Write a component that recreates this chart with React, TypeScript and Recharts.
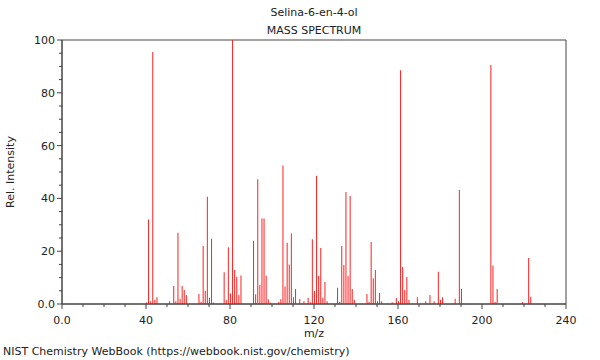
import React from 'react';
import { BarChart, Bar, XAxis, YAxis, ReferenceArea, Label } from 'recharts';

// m/z values and their relative intensities
const masses = [
  40, 41, 42, 43, 44, 45, 51, 53, 54, 55, 56, 57, 58, 59, 65, 66, 67, 68, 69, 70, 71, 72,
  77, 78, 79, 80, 81, 82, 83, 84, 85, 91, 92, 93, 94, 95, 96, 97, 98, 99, 103, 104, 105,
  106, 107, 108, 109, 110, 111, 113, 115, 117, 118, 119, 120, 121, 122, 123, 124, 125, 126,
  131, 132, 133, 134, 135, 136, 137, 138, 139, 145, 146, 147, 148, 149, 150, 151, 152, 157,
  159, 160, 161, 162, 163, 164, 165, 169, 173, 175, 177, 179, 180, 181, 187, 189, 190, 204,
  205, 206, 207, 219, 222, 223,
];
const intensities = [
  0.6, 32, 1, 95.5, 1.5, 2.6, 1, 6.8, 1, 27, 2, 6.8, 5.3, 3.4, 3.8, 0.8, 22, 5, 40.6, 2.4, 24.7, 0.6,
  12, 1.5, 21.5, 4, 100, 12.9, 10.3, 3.4, 10.8, 24, 3.7, 47.3, 7.2, 32.4, 32.4, 10.8, 1.8, 0.6, 0.8, 1.8, 52.5,
  6.6, 23.2, 15, 26.7, 2.6, 5.7, 1.9, 1, 2.4, 0.7, 24.5, 4.9, 48.6, 10.6, 21.2, 2.4, 8.3, 1,
  6.2, 0.8, 22, 14.8, 42.4, 10.6, 40.9, 5.7, 1.5, 3.8, 0.8, 23.5, 9.8, 12.9, 1, 4.2, 1, 0.7,
  2.3, 1, 88.5, 14, 5.3, 10.2, 1.5, 2.6, 1, 3.4, 1, 12.2, 1.5, 2.6, 2, 43.2, 5.8, 90.5,
  14.6, 0.8, 5.7, 0.8, 17.4, 2.7,
];

const xTicks = [0, 10, 20, 30, 40, 50, 60, 70, 80, 90, 100, 110, 120, 130, 140, 150, 160, 170, 180, 190, 200, 210, 220, 230, 240];
const xLabels = [0, 40, 80, 120, 160, 200, 240];
const yTicks = [0, 5, 10, 15, 20, 25, 30, 35, 40, 45, 50, 55, 60, 65, 70, 75, 80, 85, 90, 95, 100];
const yLabels = [0, 20, 40, 60, 80, 100];

const FONT = '"DejaVu Sans", sans-serif';
const AXIS = '#444';

const data = masses.map((mz, i) => ({ mz, intensity: intensities[i] }));

const fmt = (v: number) => (v === 0 ? '0.0' : String(v));

const XTick = (props: any) => {
  const { x, y, payload } = props;
  const major = xLabels.includes(payload.value);
  return (
    <g>
      <line x1={x} x2={x} y1={y} y2={y + (major ? 5 : 3)} stroke={AXIS} />
      {major && (
        <text x={x} y={y + 20} textAnchor="middle" fontSize={11} fontFamily={FONT} fill="#222">
          {fmt(payload.value)}
        </text>
      )}
    </g>
  );
};

const YTick = (props: any) => {
  const { x, y, payload } = props;
  const major = yLabels.includes(payload.value);
  return (
    <g>
      <line x1={x} x2={x - (major ? 5 : 3)} y1={y} y2={y} stroke={AXIS} />
      {major && (
        <text x={x - 7} y={y + 4} textAnchor="end" fontSize={11} fontFamily={FONT} fill="#222">
          {fmt(payload.value)}
        </text>
      )}
    </g>
  );
};

const textStyle: React.CSSProperties = {
  position: 'absolute',
  fontFamily: FONT,
  fontSize: 11,
  color: '#222',
  whiteSpace: 'nowrap',
};

export default function App() {
  return (
    <div style={{ position: 'absolute', left: 0, top: 0, width: 600, height: 360, background: '#fff' }}>
      <div style={{ ...textStyle, left: 314, top: 6, transform: 'translateX(-50%)' }}>Selina-6-en-4-ol</div>
      <div style={{ ...textStyle, left: 314, top: 24, transform: 'translateX(-50%)' }}>MASS SPECTRUM</div>
      <BarChart width={600} height={360} data={data} margin={{ top: 40, right: 34, bottom: 26, left: 0 }}>
        <ReferenceArea x1={0} x2={240} y1={0} y2={100} stroke={AXIS} fill="none" ifOverflow="visible" />
        <XAxis
          dataKey="mz"
          type="number"
          domain={[0, 240]}
          ticks={xTicks}
          interval={0}
          height={30}
          tickSize={0}
          tickMargin={0}
          tickLine={false}
          tick={<XTick />}
          axisLine={{ stroke: AXIS }}
        >
          <Label value="m/z" position="bottom" offset={-5} fontSize={11} fontFamily={FONT} fill="#222" />
        </XAxis>
        <YAxis
          type="number"
          domain={[0, 100]}
          ticks={yTicks}
          interval={0}
          width={62}
          tickSize={0}
          tickMargin={0}
          tickLine={false}
          tick={<YTick />}
          axisLine={{ stroke: AXIS }}
        >
          <Label value="Rel. Intensity" angle={-90} position="insideLeft" offset={10} fontSize={11} fontFamily={FONT} fill="#222" style={{ textAnchor: 'middle' }} />
        </YAxis>
        <Bar dataKey="intensity" fill="#ff2020" barSize={1} isAnimationActive={false} />
      </BarChart>
      <div style={{ ...textStyle, left: 3, top: 345 }}>NIST Chemistry WebBook (https://webbook.nist.gov/chemistry)</div>
    </div>
  );
}
